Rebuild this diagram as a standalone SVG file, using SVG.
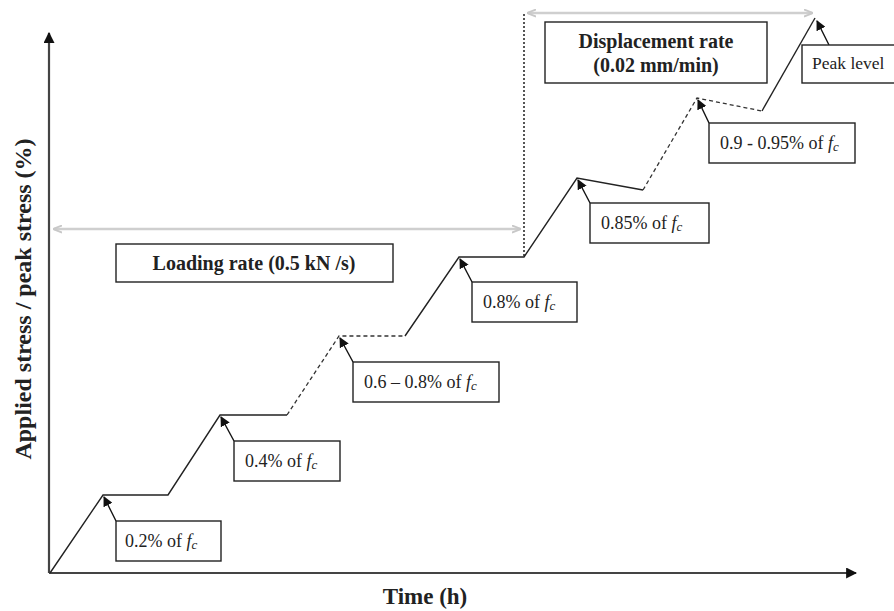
<svg xmlns="http://www.w3.org/2000/svg" width="894" height="611" viewBox="0 0 894 611">
<defs>
<marker id="ah" viewBox="0 0 10 10" refX="9" refY="5" markerWidth="10" markerHeight="10" markerUnits="userSpaceOnUse" orient="auto"><path d="M0,0 L10,5 L0,10 z" fill="#111"/></marker>
<marker id="axh" viewBox="0 0 10 10" refX="9" refY="5" markerWidth="11" markerHeight="11" markerUnits="userSpaceOnUse" orient="auto"><path d="M0,0 L10,5 L0,10 z" fill="#111"/></marker>
<marker id="gh" viewBox="0 0 10 10" refX="9" refY="5" markerWidth="9" markerHeight="9" markerUnits="userSpaceOnUse" orient="auto-start-reverse"><path d="M0,1 L10,5 L0,9" fill="none" stroke="#c8c8c8" stroke-width="2"/></marker>
</defs>
<style>
.ax{stroke:#444;stroke-width:2.2;fill:none}
.cv{stroke:#222;stroke-width:1.4;fill:none}
.ds{stroke:#333;stroke-width:1.3;fill:none;stroke-dasharray:4 3}
.gr{stroke:#cfcfcf;stroke-width:2.5;fill:none}
.vd{stroke:#555;stroke-width:2;fill:none;stroke-dasharray:2 2}
.bx{fill:#fff;stroke:#222;stroke-width:1.4}
.pt{stroke:#111;stroke-width:1.4;fill:none}
.lb{font-family:"Liberation Serif",serif;font-size:18px;fill:#222}
.bd{font-family:"Liberation Serif",serif;font-size:20px;font-weight:bold;fill:#222}
.it{font-style:italic}
</style>
<rect width="894" height="611" fill="#fff"/>
<g id="axes">
<line class="ax" x1="49" y1="573" x2="49" y2="33" marker-end="url(#axh)"/>
<line class="ax" x1="49" y1="573" x2="856" y2="573" marker-end="url(#axh)"/>
<text class="bd" style="font-size:23px" x="425" y="604" text-anchor="middle">Time (h)</text>
<text class="bd" style="font-size:24px" transform="translate(31,299) rotate(-90)" text-anchor="middle">Applied stress / peak stress (%)</text>
</g>
<g id="connectors">
<line class="gr" x1="54" y1="229" x2="520" y2="229" marker-start="url(#gh)" marker-end="url(#gh)"/>
<line class="gr" x1="528" y1="13" x2="812" y2="13" marker-start="url(#gh)" marker-end="url(#gh)"/>
<line class="vd" x1="524" y1="14" x2="524" y2="257"/>
<path class="cv" d="M50,573 L103,495 L168,495 L220,415 L287,415"/>
<path class="ds" d="M287,415 L339,336 L405,336"/>
<path class="cv" d="M405,336 L459,257 L524,257 L577,178 L643,190"/>
<path class="ds" d="M643,190 L697,98 L762,111"/>
<path class="cv" d="M762,111 L815,18"/>
<line class="pt" x1="116" y1="521" x2="104" y2="497" marker-end="url(#ah)"/>
<line class="pt" x1="234" y1="441" x2="221" y2="417" marker-end="url(#ah)"/>
<line class="pt" x1="353" y1="362" x2="340" y2="338" marker-end="url(#ah)"/>
<line class="pt" x1="472" y1="282" x2="460" y2="259" marker-end="url(#ah)"/>
<line class="pt" x1="590" y1="203" x2="578" y2="180" marker-end="url(#ah)"/>
<line class="pt" x1="709" y1="123" x2="698" y2="100" marker-end="url(#ah)"/>
<line class="pt" x1="829" y1="45" x2="817" y2="21" marker-end="url(#ah)"/>
</g>
<g id="loading-rate">
<rect class="bx" x="116" y="244" width="277" height="38"/>
<text class="bd" x="254" y="270" text-anchor="middle">Loading rate (0.5 kN /s)</text>
</g>
<g id="displacement-rate">
<rect class="bx" x="545" y="22" width="222" height="61"/>
<text class="bd" x="656" y="48" text-anchor="middle">Displacement rate</text>
<text class="bd" x="656" y="72" text-anchor="middle">(0.02 mm/min)</text>
</g>
<g id="peak-level">
<rect class="bx" x="802" y="45" width="100" height="38"/>
<text class="lb" style="font-size:17.5px" x="812" y="69">Peak level</text>
</g>
<g id="label-02">
<rect class="bx" x="116" y="521" width="105" height="40"/>
<text class="lb" x="125" y="547">0.2% of <tspan class="it">f</tspan><tspan class="it" font-size="13" dy="2">c</tspan></text>
</g>
<g id="label-04">
<rect class="bx" x="234" y="441" width="106" height="40"/>
<text class="lb" x="245" y="467">0.4% of <tspan class="it">f</tspan><tspan class="it" font-size="13" dy="2">c</tspan></text>
</g>
<g id="label-06-08">
<rect class="bx" x="353" y="362" width="146" height="40"/>
<text class="lb" x="364" y="388">0.6 – 0.8% of <tspan class="it">f</tspan><tspan class="it" font-size="13" dy="2">c</tspan></text>
</g>
<g id="label-08">
<rect class="bx" x="472" y="282" width="105" height="40"/>
<text class="lb" x="483" y="308">0.8% of <tspan class="it">f</tspan><tspan class="it" font-size="13" dy="2">c</tspan></text>
</g>
<g id="label-085">
<rect class="bx" x="590" y="203" width="119" height="40"/>
<text class="lb" x="601" y="229">0.85% of <tspan class="it">f</tspan><tspan class="it" font-size="13" dy="2">c</tspan></text>
</g>
<g id="label-09-095">
<rect class="bx" x="709" y="123" width="146" height="40"/>
<text class="lb" x="720" y="149">0.9 - 0.95% of <tspan class="it">f</tspan><tspan class="it" font-size="13" dy="2">c</tspan></text>
</g>
</svg>
